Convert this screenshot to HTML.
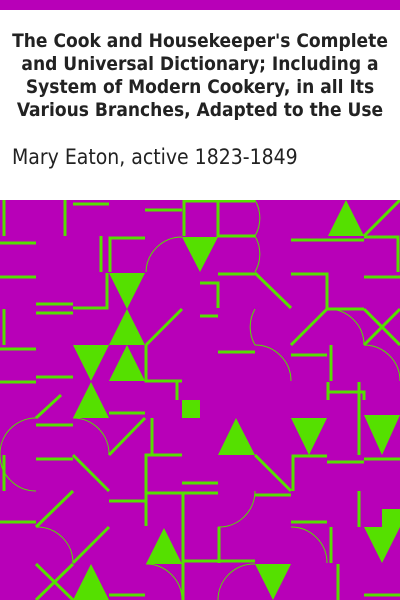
<!DOCTYPE html>
<html><head><meta charset="utf-8"><style>
html,body{margin:0;padding:0;width:400px;height:600px;overflow:hidden;background:#fff}
.title{position:absolute;left:0;width:400px;text-align:center;font-family:"DejaVu Sans Condensed","DejaVu Sans","Liberation Sans",sans-serif;font-weight:bold;font-size:19px;line-height:23px;color:#222;top:30px}
.author{position:absolute;left:12px;top:145px;font-family:"DejaVu Sans Condensed","DejaVu Sans","Liberation Sans",sans-serif;font-size:21px;color:#222}
</style></head><body>
<div style="position:absolute;left:0;top:0;width:400px;height:10px;background:#b800b8"></div>
<div class="title">The Cook and Housekeeper's Complete<br>and Universal Dictionary; Including a<br>System of Modern Cookery, in all Its<br>Various Branches, Adapted to the Use</div>
<div class="author">Mary Eaton, active 1823-1849</div>
<svg style="position:absolute;left:0;top:200px" width="400" height="400" viewBox="0 200 400 400">
<rect x="0" y="200" width="400" height="400" fill="#b800b8"/>
<g fill="#55e000">
<polygon points="328,236 364,236 346,200"/>
<polygon points="182,237 218,237 200,272"/>
<polygon points="109,273 145,273 127,309"/>
<polygon points="109,345 145,345 127,309"/>
<polygon points="73,345 109,345 91,381"/>
<polygon points="109,381 145,381 127,345"/>
<polygon points="73,418 109,418 91,382"/>
<rect x="182" y="400" width="18" height="18"/>
<polygon points="218,455 255,455 236,418"/>
<polygon points="291,418 327,418 309,455"/>
<polygon points="364,415 400,415 382,455"/>
<polygon points="146,564 182,564 164,528"/>
<polygon points="73,600 109,600 91,564"/>
<polygon points="255,564 291,564 273,600"/>
<polygon points="364,527 400,527 382,563"/>
<rect x="382" y="509" width="18" height="18"/>
</g>
<g stroke="#55e000" stroke-width="3" fill="none">
<path d="M4 200V236M65 200V236M73 204H109M184 236V201H200M145 210H182M0 243H36M0 277H36M101 236V272M145 238H110V272M107 273V308H73M36 304H73M36 313H73M4 309V345M0 349H36M182 309L146 345M146 345V381H182M177 382V400M36 377H73M0 382H36"/>
<path d="M200 201H255M218 200V236H255M291 240H364M400 200L364 236M364 237H398V272M364 277H400M200 283H218V308M218 274H255M255 273L291 308M291 274H327V309H364M327 309L291 345M364 309L400 345M400 309L364 345M200 316H218M218 352H255M291 355H327M331 345V381M327 392H364V400"/>
<path d="M36 418L61 395M36 425H73M109 413H145M145 418L109 455M152 418V455M4 455V491M36 459H73M73 455L109 491M182 455H146V526M109 501H146M182 483H218M146 493H218M183 493V600M255 455L291 491M255 495H291M327 456H293V491M327 462H364M359 418V455M359 491V527M364 459H400M73 491L36 527M0 522H36M109 527L73 563M291 522H327M331 527V563M338 564V600M182 561H255M219 527V563M36 564L73 600M73 564L36 600M109 595H145M364 595H400M359 382V418M328 382V400"/>
</g>
<g stroke="#55e000" stroke-width="1" fill="none">
<path d="M146 272A36 36 0 0 1 182 237"/>
<path d="M255 200A36 36 0 0 1 255 236"/>
<path d="M255 236A36 36 0 0 1 255 272"/>
<path d="M255 309A36 36 0 0 0 255 345"/>
<path d="M328 309A36 36 0 0 1 364 345"/>
<path d="M364 345A36 36 0 0 1 400 381"/>
<path d="M255 345A36 36 0 0 1 291 381"/>
<path d="M0 455A36 36 0 0 1 36 418"/>
<path d="M73 418A36 36 0 0 1 109 455"/>
<path d="M36 527A36 36 0 0 1 73 563"/>
<path d="M146 564A36 36 0 0 1 182 600"/>
<path d="M218 527A36 36 0 0 0 255 491"/>
<path d="M218 600A36 36 0 0 1 255 564"/>
<path d="M291 527A36 36 0 0 1 327 563"/>
<path d="M0 455A36 36 0 0 0 36 491"/>
</g>
</svg>
</body></html>
